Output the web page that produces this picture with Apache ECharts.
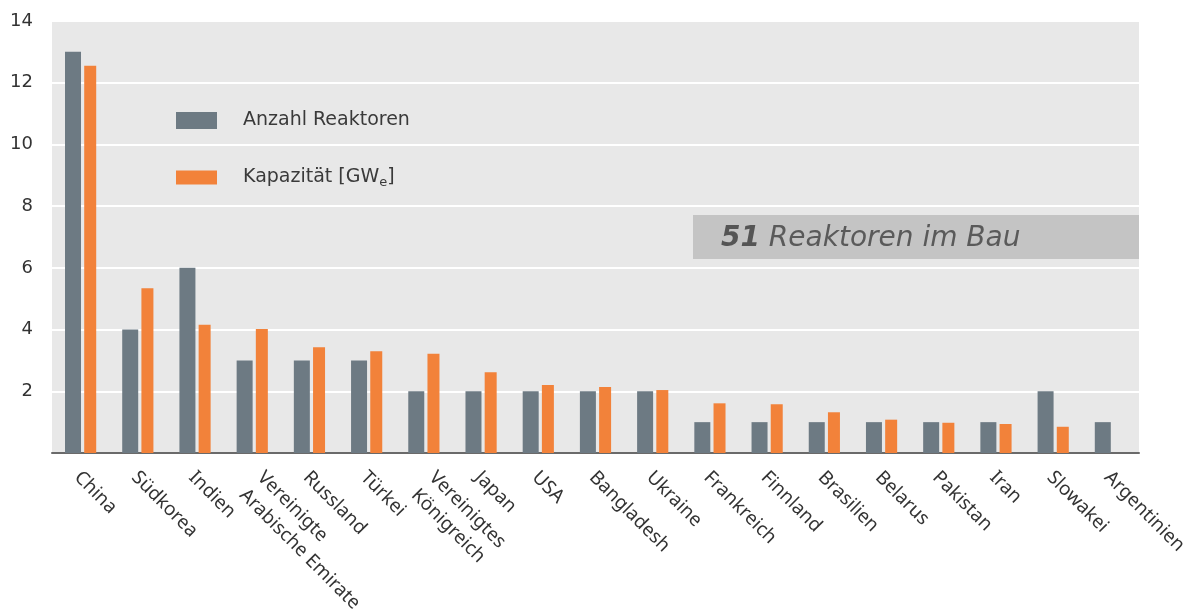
<!DOCTYPE html>
<html>
<head>
<meta charset="utf-8">
<script src="https://cdn.jsdelivr.net/npm/echarts@6/dist/echarts.min.js"></script>
<style>
html,body{margin:0;padding:0;background:#fff;}
#chart{width:1184px;height:613px;}
</style>
</head>
<body>
<div id="chart"></div>
<script>
const categories = ['China','Südkorea','Indien','Vereinigte\nArabische Emirate','Russland','Türkei','Vereinigtes\nKönigreich','Japan','USA','Bangladesh','Ukraine','Frankreich','Finnland','Brasilien','Belarus','Pakistan','Iran','Slowakei','Argentinien'];
const reaktoren = [13,4,6,3,3,3,2,2,2,2,2,1,1,1,1,1,1,2,1];
const kapazitaet = [12.55,5.34,4.16,4.02,3.43,3.3,3.22,2.62,2.2,2.14,2.04,1.61,1.58,1.32,1.08,0.98,0.94,0.85,0];
const yTicks = [0,2,4,6,8,10,12,14];
const seriesNames = ['Anzahl Reaktoren','Kapazität [GWe]'];
const annotation = {num:'51', text:' Reaktoren im Bau'};

// label styling (single-line vs two-line category names)
const singleStyle = {align:'left',verticalAlign:'top',padding:[0,0,0,8]};
const multiStyle = {align:'left',verticalAlign:'middle',padding:[0,0,0,16]};
const xData = categories.map(function(c){
  return {value:c, textStyle: c.indexOf('\n')>=0 ? multiStyle : singleStyle};
});

const chart = echarts.init(document.getElementById('chart'));
const GREY = '#6d7a83', ORANGE = '#f2823a';
chart.setOption({
  animation:false,
  grid:{left:52,right:45,top:21,bottom:160,show:true,backgroundColor:'#e8e8e8',borderWidth:0,
        containLabel:false,outerBoundsMode:'none'},
  legend:[
    {data:[seriesNames[0]],left:171,top:106,orient:'vertical',itemWidth:41,itemHeight:17,icon:'rect',
     textStyle:{fontFamily:'DejaVu Sans',fontSize:19,color:'#3a3a3a',padding:[0,0,0,21]}},
    {data:[seriesNames[1]],left:171,top:163,orient:'vertical',itemWidth:41,itemHeight:14,icon:'rect',
     formatter:function(){return 'Kapazität [GW{sub|e}]';},
     textStyle:{fontFamily:'DejaVu Sans',fontSize:19,color:'#3a3a3a',padding:[0,0,0,21],
       rich:{sub:{fontFamily:'DejaVu Sans',fontSize:13,color:'#3a3a3a',padding:[10,0,0,0]}}}}
  ],
  xAxis:{type:'category',data:xData,
    axisLine:{lineStyle:{color:'#6a6a6a',width:2}},axisTick:{show:false},
    axisLabel:{interval:0,rotate:-45,align:'left',verticalAlign:'top',margin:7,
      fontFamily:'Noto Sans',fontSize:19,color:'#333',lineHeight:25,
      formatter:function(v){
        if (v.indexOf('\n')<0) return v;
        return '{sp| }\n' + v.split('\n').map(function(l){return '{t|'+l+'}';}).join('\n');
      },
      rich:{sp:{fontSize:2,lineHeight:34},
            t:{fontFamily:'Noto Sans',fontSize:19,color:'#333',lineHeight:25}}}},
  yAxis:{type:'value',min:0,max:14,interval:2,
    axisLine:{show:false},axisTick:{show:false},
    splitLine:{lineStyle:{color:'#ffffff',width:2}},
    axisLabel:{margin:19,fontFamily:'DejaVu Sans',fontSize:18,color:'#333',
      formatter:function(v){return (v===0||yTicks.indexOf(v)<0)?'':String(v);}}},
  series:[
    {name:seriesNames[0],type:'bar',data:reaktoren,barWidth:16,barGap:'20%',itemStyle:{color:GREY}},
    {name:seriesNames[1],type:'bar',data:kapazitaet,barWidth:12,barGap:'20%',itemStyle:{color:ORANGE}}
  ],
  graphic:[
    {type:'rect',left:693,top:215,shape:{width:446,height:44},style:{fill:'#c4c4c4'},silent:true},
    {type:'text',left:721,top:225,style:{
      text:'{b|'+annotation.num+'}{i|'+annotation.text+'}',
      rich:{
        b:{fontFamily:'DejaVu Sans',fontStyle:'italic',fontWeight:'bold',fontSize:28,fill:'#555'},
        i:{fontFamily:'DejaVu Sans',fontStyle:'italic',fontSize:28,fill:'#5a5a5a'}
      }}}
  ]
});
</script>
</body>
</html>
